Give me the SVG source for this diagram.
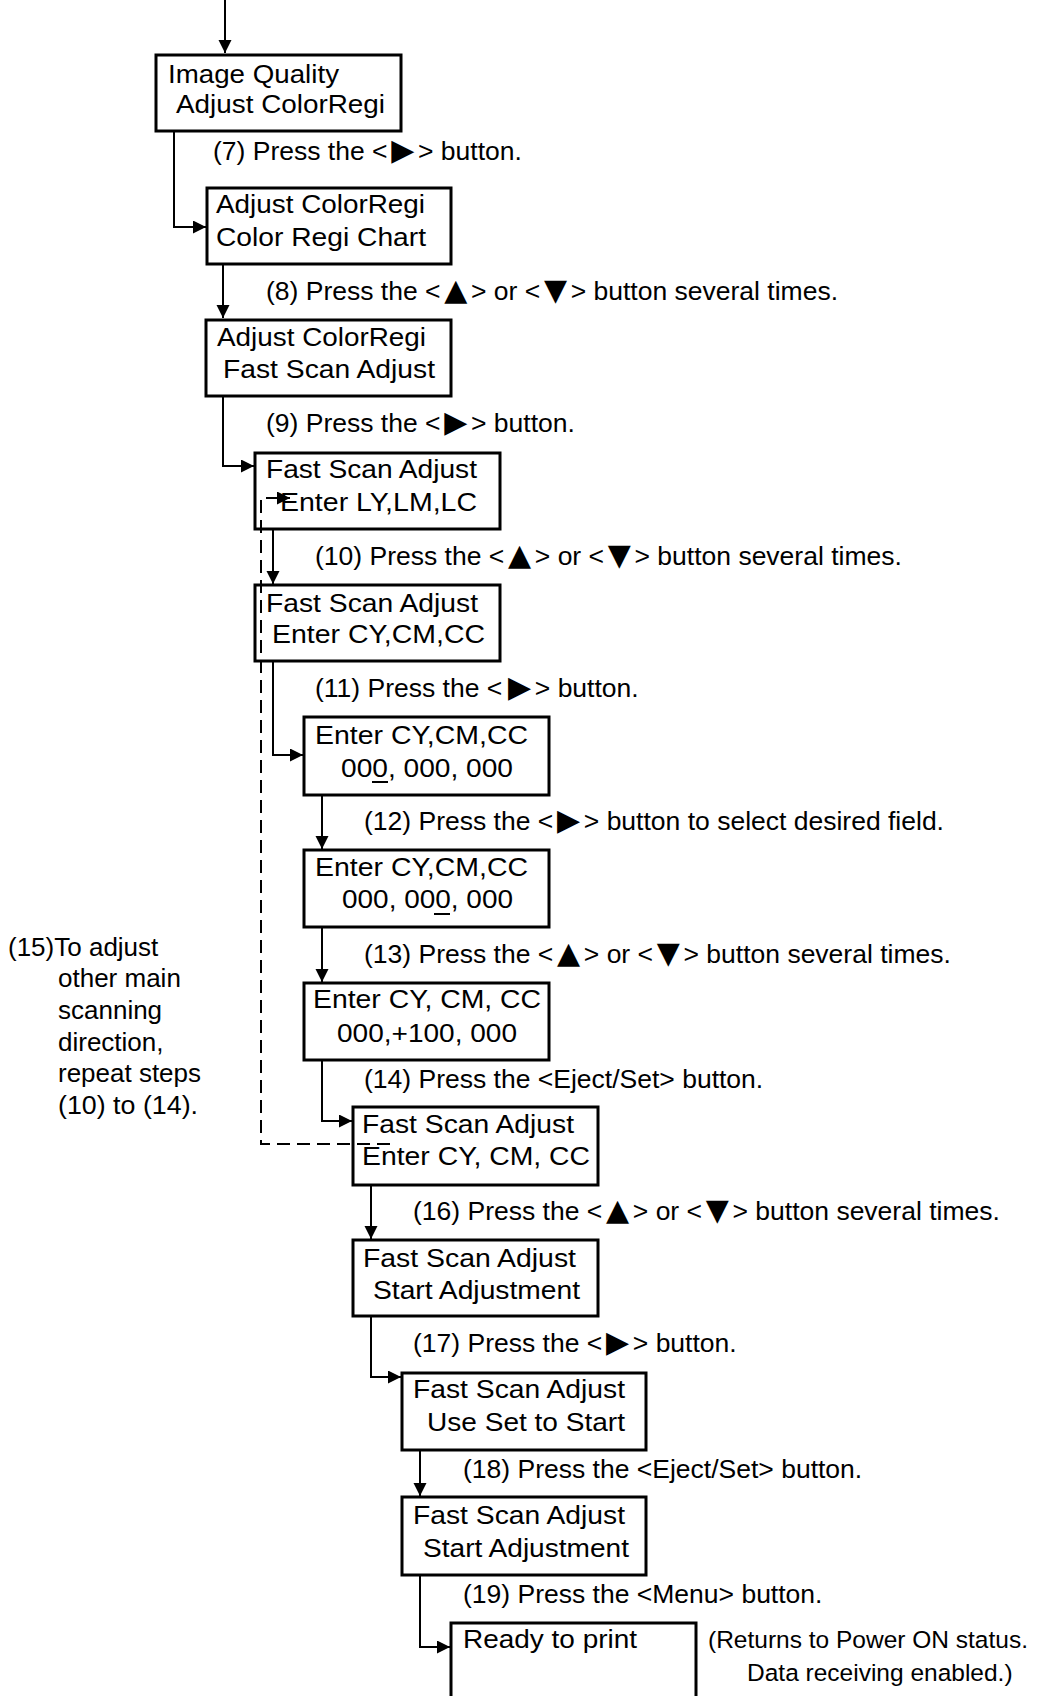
<svg xmlns="http://www.w3.org/2000/svg" width="1045" height="1696" viewBox="0 0 1045 1696">
<style>
  .box { fill: #fff; stroke: #000; stroke-width: 3; }
  text { font-family: "Liberation Sans", Arial, sans-serif; fill: #000; }
  .t { font-size: 25px; }
  .lb { font-size: 26.5px; }
  .nt { font-size: 24.5px; }
  .side { font-size: 26px; }
  .tri { font-family: "DejaVu Sans", sans-serif; font-size: 30px; }
  .conn { fill: none; stroke: #000; stroke-width: 2; }
  .dash { stroke-dasharray: 13 7; }
  .ul { stroke: #000; stroke-width: 2; }
</style>
<defs>
  <marker id="ah" markerUnits="userSpaceOnUse" markerWidth="14" markerHeight="14" refX="13" refY="6.5" orient="auto">
    <path d="M0,0 L13,6.5 L0,13 z" fill="#000"/>
  </marker>
</defs>

<g id="connectors">
  <path class="conn" d="M225,0 V53" marker-end="url(#ah)"/>
  <path class="conn" d="M174,132 V227 H206" marker-end="url(#ah)"/>
  <path class="conn" d="M223,265 V318" marker-end="url(#ah)"/>
  <path class="conn" d="M223,397 V466 H254" marker-end="url(#ah)"/>
  <path class="conn" d="M273,530 V584" marker-end="url(#ah)"/>
  <path class="conn" d="M273,662 V755 H303" marker-end="url(#ah)"/>
  <path class="conn" d="M322,796 V849" marker-end="url(#ah)"/>
  <path class="conn" d="M322,928 V982" marker-end="url(#ah)"/>
  <path class="conn" d="M322,1061 V1121 H352" marker-end="url(#ah)"/>
  <path class="conn" d="M371,1186 V1239" marker-end="url(#ah)"/>
  <path class="conn" d="M371,1317 V1377 H401" marker-end="url(#ah)"/>
  <path class="conn" d="M420,1451 V1496" marker-end="url(#ah)"/>
  <path class="conn" d="M420,1576 V1647 H450" marker-end="url(#ah)"/>
</g>

<g id="n1">
  <rect class="box" x="156" y="55" width="245" height="76"/>
  <text class="t" x="168" y="83" textLength="171" lengthAdjust="spacingAndGlyphs">Image Quality</text>
  <text class="t" x="176" y="113" textLength="209" lengthAdjust="spacingAndGlyphs">Adjust ColorRegi</text>
</g>
<g id="n2">
  <rect class="box" x="207" y="188" width="244" height="76"/>
  <text class="t" x="216" y="213" textLength="209" lengthAdjust="spacingAndGlyphs">Adjust ColorRegi</text>
  <text class="t" x="216" y="246" textLength="210" lengthAdjust="spacingAndGlyphs">Color Regi Chart</text>
</g>
<g id="n3">
  <rect class="box" x="206" y="320" width="245" height="76"/>
  <text class="t" x="217" y="346" textLength="209" lengthAdjust="spacingAndGlyphs">Adjust ColorRegi</text>
  <text class="t" x="223" y="378" textLength="212" lengthAdjust="spacingAndGlyphs">Fast Scan Adjust</text>
</g>
<g id="n4">
  <rect class="box" x="255" y="453" width="245" height="76"/>
  <text class="t" x="266" y="478" textLength="211" lengthAdjust="spacingAndGlyphs">Fast Scan Adjust</text>
  <text class="t" x="280" y="511" textLength="197" lengthAdjust="spacingAndGlyphs">Enter LY,LM,LC</text>
</g>
<g id="n5">
  <rect class="box" x="255" y="585" width="245" height="76"/>
  <text class="t" x="266" y="612" textLength="212" lengthAdjust="spacingAndGlyphs">Fast Scan Adjust</text>
  <text class="t" x="272" y="643" textLength="213" lengthAdjust="spacingAndGlyphs">Enter CY,CM,CC</text>
</g>
<g id="n6">
  <rect class="box" x="304" y="717" width="245" height="78"/>
  <text class="t" x="315" y="744" textLength="213" lengthAdjust="spacingAndGlyphs">Enter CY,CM,CC</text>
  <text class="t" x="341" y="777" textLength="172" lengthAdjust="spacingAndGlyphs">000, 000, 000</text>
  <line class="ul" x1="372" y1="782" x2="388" y2="782"/>
</g>
<g id="n7">
  <rect class="box" x="304" y="850" width="245" height="77"/>
  <text class="t" x="315" y="876" textLength="213" lengthAdjust="spacingAndGlyphs">Enter CY,CM,CC</text>
  <text class="t" x="342" y="908" textLength="171" lengthAdjust="spacingAndGlyphs">000, 000, 000</text>
  <line class="ul" x1="434" y1="914" x2="450" y2="914"/>
</g>
<g id="n8">
  <rect class="box" x="304" y="983" width="245" height="77"/>
  <text class="t" x="313" y="1008" textLength="228" lengthAdjust="spacingAndGlyphs">Enter CY, CM, CC</text>
  <text class="t" x="337" y="1042" textLength="180" lengthAdjust="spacingAndGlyphs">000,+100, 000</text>
</g>
<g id="n9">
  <rect class="box" x="353" y="1107" width="245" height="78"/>
  <text class="t" x="362" y="1133" textLength="212" lengthAdjust="spacingAndGlyphs">Fast Scan Adjust</text>
  <text class="t" x="362" y="1165" textLength="228" lengthAdjust="spacingAndGlyphs">Enter CY, CM, CC</text>
</g>
<g id="n10">
  <rect class="box" x="353" y="1240" width="245" height="76"/>
  <text class="t" x="363" y="1267" textLength="213" lengthAdjust="spacingAndGlyphs">Fast Scan Adjust</text>
  <text class="t" x="373" y="1299" textLength="207" lengthAdjust="spacingAndGlyphs">Start Adjustment</text>
</g>
<g id="n11">
  <rect class="box" x="402" y="1373" width="244" height="77"/>
  <text class="t" x="413" y="1398" textLength="212" lengthAdjust="spacingAndGlyphs">Fast Scan Adjust</text>
  <text class="t" x="427" y="1431" textLength="198" lengthAdjust="spacingAndGlyphs">Use Set to Start</text>
</g>
<g id="n12">
  <rect class="box" x="402" y="1497" width="244" height="78"/>
  <text class="t" x="413" y="1524" textLength="212" lengthAdjust="spacingAndGlyphs">Fast Scan Adjust</text>
  <text class="t" x="423" y="1557" textLength="206" lengthAdjust="spacingAndGlyphs">Start Adjustment</text>
</g>
<g id="n13">
  <rect class="box" x="451" y="1623" width="245" height="100"/>
  <text class="t" x="463" y="1648" textLength="174" lengthAdjust="spacingAndGlyphs">Ready to print</text>
</g>

<g id="loop">
  <path class="conn dash" d="M390,1144 H261 V498 H290" marker-end="url(#ah)"/>
</g>

<g id="labels">
  <text class="lb" y="160"><tspan x="213">(7) Press the &lt;</tspan><tspan class="tri" x="402.75" text-anchor="middle">▶</tspan><tspan x="418">&gt; button.</tspan></text>
  <text class="lb" y="300"><tspan x="266">(8) Press the &lt;</tspan><tspan class="tri" x="455.75" text-anchor="middle">▲</tspan><tspan x="471">&gt; or &lt;</tspan><tspan class="tri" x="555.45" text-anchor="middle">▼</tspan><tspan x="570.7">&gt; button several times.</tspan></text>
  <text class="lb" y="432"><tspan x="266">(9) Press the &lt;</tspan><tspan class="tri" x="455.75" text-anchor="middle">▶</tspan><tspan x="471">&gt; button.</tspan></text>
  <text class="lb" y="565"><tspan x="315">(10) Press the &lt;</tspan><tspan class="tri" x="519.55" text-anchor="middle">▲</tspan><tspan x="534.8">&gt; or &lt;</tspan><tspan class="tri" x="619.25" text-anchor="middle">▼</tspan><tspan x="634.5">&gt; button several times.</tspan></text>
  <text class="lb" y="697"><tspan x="315">(11) Press the &lt;</tspan><tspan class="tri" x="519.55" text-anchor="middle">▶</tspan><tspan x="534.8">&gt; button.</tspan></text>
  <text class="lb" y="830"><tspan x="364">(12) Press the &lt;</tspan><tspan class="tri" x="568.55" text-anchor="middle">▶</tspan><tspan x="583.8">&gt; button to select desired field.</tspan></text>
  <text class="lb" y="963"><tspan x="364">(13) Press the &lt;</tspan><tspan class="tri" x="568.55" text-anchor="middle">▲</tspan><tspan x="583.8">&gt; or &lt;</tspan><tspan class="tri" x="668.25" text-anchor="middle">▼</tspan><tspan x="683.5">&gt; button several times.</tspan></text>
  <text class="lb" x="364" y="1088">(14) Press the &lt;Eject/Set&gt; button.</text>
  <text class="lb" y="1220"><tspan x="413">(16) Press the &lt;</tspan><tspan class="tri" x="617.55" text-anchor="middle">▲</tspan><tspan x="632.8">&gt; or &lt;</tspan><tspan class="tri" x="717.25" text-anchor="middle">▼</tspan><tspan x="732.5">&gt; button several times.</tspan></text>
  <text class="lb" y="1352"><tspan x="413">(17) Press the &lt;</tspan><tspan class="tri" x="617.55" text-anchor="middle">▶</tspan><tspan x="632.8">&gt; button.</tspan></text>
  <text class="lb" x="463" y="1478">(18) Press the &lt;Eject/Set&gt; button.</text>
  <text class="lb" x="463" y="1603">(19) Press the &lt;Menu&gt; button.</text>
</g>

<g id="note15">
  <text class="side" x="8" y="956">(15)To adjust</text>
  <text class="side" x="58" y="987">other main</text>
  <text class="side" x="58" y="1019">scanning</text>
  <text class="side" x="58" y="1051">direction,</text>
  <text class="side" x="58" y="1082" textLength="143" lengthAdjust="spacingAndGlyphs">repeat steps</text>
  <text class="side" x="58" y="1114" textLength="140" lengthAdjust="spacingAndGlyphs">(10) to (14).</text>
</g>

<g id="note-end">
  <text class="nt" x="708" y="1648">(Returns to Power ON status.</text>
  <text class="nt" x="747" y="1681">Data receiving enabled.)</text>
</g>
</svg>
